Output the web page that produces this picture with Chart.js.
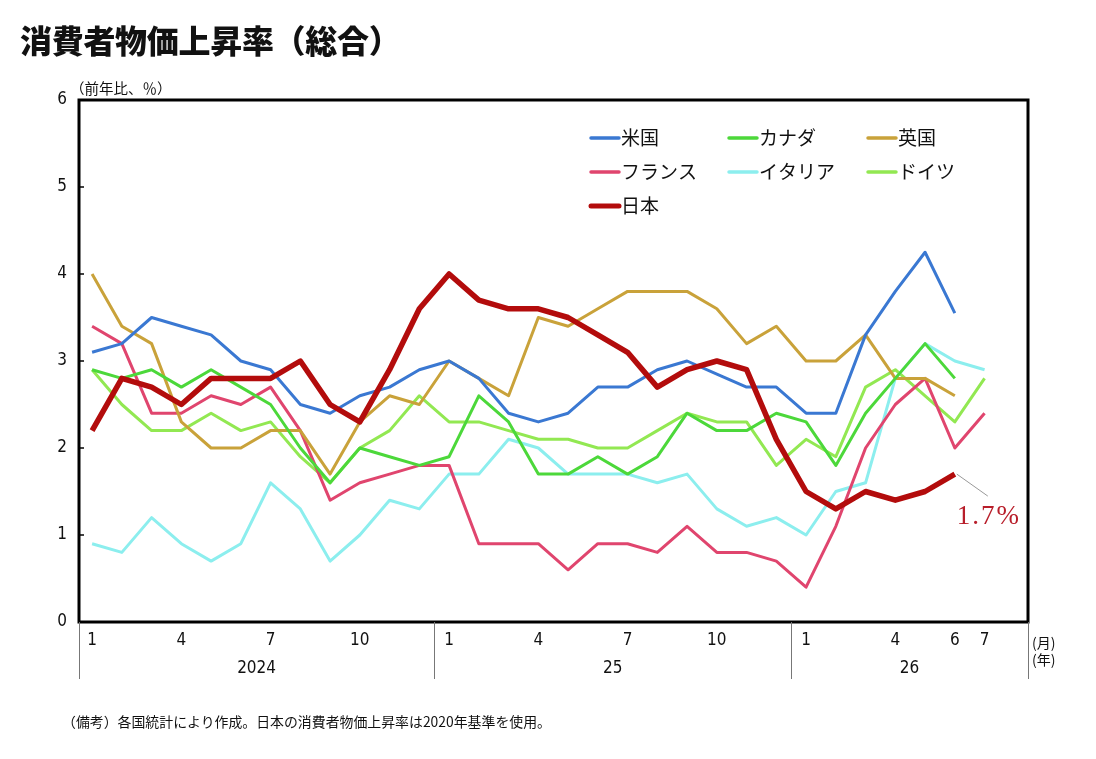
<!DOCTYPE html>
<html><head><meta charset="utf-8">
<script src="https://cdn.jsdelivr.net/npm/chart.js@4/dist/chart.umd.min.js"></script>
<style>
html,body{margin:0;padding:0;background:#fff;}
#wrap{position:relative;width:1096px;height:759px;overflow:hidden;background:#fff;}
#c{position:absolute;left:0;top:0;}
.txt{position:absolute;white-space:nowrap;line-height:1;color:#111;}
#title{left:20px;top:23px;font-family:'Noto Sans CJK JP',sans-serif;font-weight:900;font-size:32px;letter-spacing:-0.3px;}
#unit{left:70px;top:81px;font-family:'Noto Sans CJK JP',sans-serif;font-size:14.5px;}
#note{left:62px;top:715px;font-family:'Noto Sans CJK JP',sans-serif;font-size:13.9px;}
</style></head>
<body>
<div id="wrap">
<canvas id="c" width="1096" height="759"></canvas>
<div class="txt" id="title">消費者物価上昇率（総合）</div>
<div class="txt" id="unit">（前年比、％）</div>
<div class="txt" id="note">（備考）各国統計により作成。日本の消費者物価上昇率は2020年基準を使用。</div>
</div>
<script>
// month index 0 = 2024年1月
const tickPositions = [0,3,6,9,12,15,18,21,24,27,29,30];
const tickLabels = ['1','4','7','10','1','4','7','10','1','4','6','7'];
const yearLabels = ['2024','25','26'];
const yearBreaks = [11.5, 23.5];

const usa     = [3.1,3.2,3.5,3.4,3.3,3.0,2.9,2.5,2.4,2.6,2.7,2.9, 3.0,2.8,2.4,2.3,2.4,2.7,2.7,2.9,3.0,2.85,2.7,2.7, 2.4,2.4,3.3,3.8,4.25,3.55];
const canada  = [2.9,2.8,2.9,2.7,2.9,2.7,2.5,2.0,1.6,2.0,1.9,1.8, 1.9,2.6,2.3,1.7,1.7,1.9,1.7,1.9,2.4,2.2,2.2,2.4, 2.3,1.8,2.4,2.8,3.2,2.8];
const uk      = [4.0,3.4,3.2,2.3,2.0,2.0,2.2,2.2,1.7,2.3,2.6,2.5, 3.0,2.8,2.6,3.5,3.4,3.6,3.8,3.8,3.8,3.6,3.2,3.4, 3.0,3.0,3.3,2.8,2.8,2.6];
const france  = [3.4,3.2,2.4,2.4,2.6,2.5,2.7,2.2,1.4,1.6,1.7,1.8, 1.8,0.9,0.9,0.9,0.6,0.9,0.9,0.8,1.1,0.8,0.8,0.7, 0.4,1.1,2.0,2.5,2.8,2.0,2.4];
const italy   = [0.9,0.8,1.2,0.9,0.7,0.9,1.6,1.3,0.7,1.0,1.4,1.3, 1.7,1.7,2.1,2.0,1.7,1.7,1.7,1.6,1.7,1.3,1.1,1.2, 1.0,1.5,1.6,2.8,3.2,3.0,2.9];
const germany = [2.9,2.5,2.2,2.2,2.4,2.2,2.3,1.9,1.6,2.0,2.2,2.6, 2.3,2.3,2.2,2.1,2.1,2.0,2.0,2.2,2.4,2.3,2.3,1.8, 2.1,1.9,2.7,2.9,2.6,2.3,2.8];
const japan   = [2.2,2.8,2.7,2.5,2.8,2.8,2.8,3.0,2.5,2.3,2.9,3.6, 4.0,3.7,3.6,3.6,3.5,3.3,3.1,2.7,2.9,3.0,2.9,2.1, 1.5,1.3,1.5,1.4,1.5,1.7];
const seriesNames = ['米国','カナダ','英国','フランス','イタリア','ドイツ','日本'];
const seriesValues = [usa, canada, uk, france, italy, germany, japan];
const seriesColors = ['#3a78d2','#4cd83a','#c9a23a','#e0456e','#8ceeee','#92e852','#b30c0c'];
const seriesWidths = [3,3,3,3,3,3,5.5];
const japanLabel = '1.7%';

const numFont = "'Liberation Sans Narrow','DejaVu Sans Condensed',sans-serif";
const jpFont = "'Noto Sans CJK JP',sans-serif";

const datasets = seriesValues.map((arr, k) => ({
  label: seriesNames[k],
  data: arr.map((v, i) => ({x: i, y: v})),
  borderColor: seriesColors[k],
  backgroundColor: seriesColors[k],
  borderWidth: seriesWidths[k],
  pointRadius: 0,
  tension: 0,
  fill: false,
  order: k === 6 ? 0 : 1 + k,
  borderJoinStyle: 'round',
  borderCapStyle: 'butt'
}));

const decor = {
  id: 'decor',
  afterDraw(chart) {
    const {ctx, chartArea: a, scales: {x, y}} = chart;
    ctx.save();
    // frame
    ctx.strokeStyle = '#000';
    ctx.lineWidth = 3;
    ctx.strokeRect(a.left, a.top, a.right - a.left, a.bottom - a.top);
    // inward ticks on y axis
    ctx.lineWidth = 1.5;
    for (let v = 1; v <= 5; v++) {
      const py = y.getPixelForValue(v);
      ctx.beginPath(); ctx.moveTo(a.left, py); ctx.lineTo(a.left + 5, py); ctx.stroke();
    }
    // year separators
    ctx.strokeStyle = '#777';
    ctx.lineWidth = 1;
    const seps = [a.left, ...yearBreaks.map(b => x.getPixelForValue(b)), a.right];
    seps.forEach(px => {
      ctx.beginPath(); ctx.moveTo(Math.round(px) + 0.5, a.bottom); ctx.lineTo(Math.round(px) + 0.5, a.bottom + 57); ctx.stroke();
    });
    // year labels
    ctx.fillStyle = '#111';
    ctx.font = '17px ' + numFont;
    ctx.textAlign = 'center';
    ctx.textBaseline = 'middle';
    for (let k = 0; k < yearLabels.length; k++) {
      const cx = (seps[k] + seps[k + 1]) / 2;
      ctx.fillText(yearLabels[k], cx, a.bottom + 47);
    }
    // (月) (年)
    ctx.font = '14px ' + jpFont;
    ctx.textAlign = 'left';
    ctx.fillText('(月)', a.right + 4, a.bottom + 21);
    ctx.fillText('(年)', a.right + 4, a.bottom + 38);
    // legend
    const cols = [590, 728, 867];
    const rows = [138, 172, 206];
    ctx.font = '19px ' + jpFont;
    ctx.textBaseline = 'middle';
    for (let k = 0; k < seriesNames.length; k++) {
      const lx = cols[k % 3], ly = rows[Math.floor(k / 3)];
      ctx.strokeStyle = seriesColors[k];
      ctx.lineWidth = k === 6 ? 5 : 3.5;
      ctx.lineCap = 'round';
      ctx.beginPath(); ctx.moveTo(lx + 1, ly); ctx.lineTo(lx + 29, ly); ctx.stroke();
      ctx.fillStyle = '#111';
      ctx.fillText(seriesNames[k], lx + 31, ly);
    }
    // Japan callout
    const last = japan.length - 1;
    const px = x.getPixelForValue(last), py = y.getPixelForValue(japan[last]);
    ctx.strokeStyle = '#999';
    ctx.lineWidth = 1;
    ctx.lineCap = 'butt';
    ctx.beginPath(); ctx.moveTo(px + 2, py); ctx.lineTo(px + 33, py + 22); ctx.stroke();
    ctx.fillStyle = '#b81e2a';
    ctx.font = '27px "Liberation Serif","DejaVu Serif",serif';
    ctx.textAlign = 'left';
    ctx.textBaseline = 'alphabetic';
    ctx.letterSpacing = '2px';
    ctx.fillText(japanLabel, px + 2, py + 50);
    ctx.restore();
  }
};

new Chart(document.getElementById('c'), {
  type: 'line',
  data: {datasets},
  options: {
    responsive: false,
    animation: false,
    devicePixelRatio: 1,
    layout: {padding: {left: 0, top: 100, right: 68, bottom: 77}},
    plugins: {legend: {display: false}, tooltip: {enabled: false}},
    scales: {
      x: {
        type: 'linear', min: -0.44, max: 31.46,
        grid: {display: false, drawTicks: false},
        border: {display: false},
        afterBuildTicks: s => { s.ticks = tickPositions.map(v => ({value: v})); },
        afterFit: s => { s.height = 60; },
        ticks: {
          autoSkip: false, maxRotation: 0, padding: 8, color: '#111',
          font: {family: numFont, size: 17},
          callback: (v, i) => tickLabels[i]
        }
      },
      y: {
        min: 0, max: 6,
        grid: {display: false, drawTicks: false},
        border: {display: false},
        afterFit: s => { s.width = 79; },
        ticks: {stepSize: 1, padding: 12, color: '#111', font: {family: numFont, size: 17}}
      }
    }
  },
  plugins: [decor]
});
</script>
</body></html>
